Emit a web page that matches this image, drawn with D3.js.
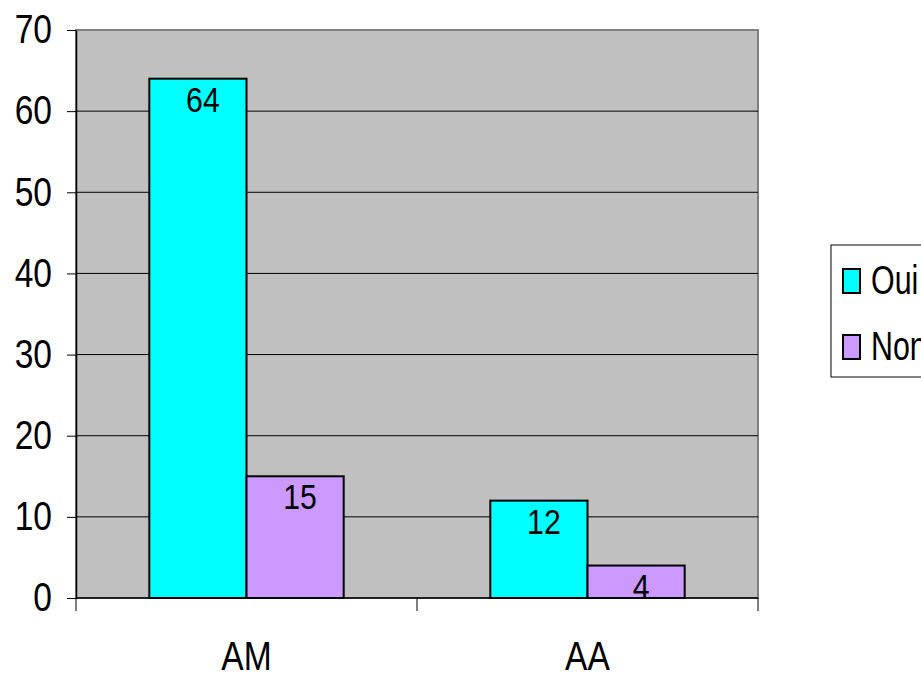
<!DOCTYPE html>
<html>
<head>
<meta charset="utf-8">
<script src="https://cdn.jsdelivr.net/npm/d3@7"></script>
<style>
  body { margin: 0; background: #fff; }
  svg { display: block; }
  text { font-family: "Liberation Sans", Arial, sans-serif; fill: #000; }
</style>
</head>
<body>
<div id="chart"></div>
<script>
// chart data
const categories = ['AM', 'AA'];
const seriesNames = ['Oui', 'Non'];
const oui = [64, 12];
const non = [15, 4];
const yTicks = [0, 10, 20, 30, 40, 50, 60, 70];
const colors = ['#00ffff', '#cc99ff'];

const width = 921, height = 673;
const plot = { left: 76, top: 30, right: 758, bottom: 598 };
const sx = 0.84; // text in the picture is narrow

const svg = d3.select('#chart').append('svg')
  .attr('width', width)
  .attr('height', height);

const x0 = d3.scaleBand().domain(categories).range([plot.left, plot.right]).padding(0);
const groupW = x0.bandwidth() * 0.57;
const x1 = d3.scaleBand().domain(seriesNames).range([0, groupW]);
const y = d3.scaleLinear().domain([0, 70]).range([plot.bottom, plot.top]);

// plot background
svg.append('rect')
  .attr('x', plot.left).attr('y', plot.top)
  .attr('width', plot.right - plot.left).attr('height', plot.bottom - plot.top)
  .attr('fill', '#c0c0c0')
  .attr('stroke', '#808080')
  .attr('stroke-width', 2);

// gridlines
svg.append('g').selectAll('line')
  .data(yTicks.filter(d => d > 0 && d < 70))
  .enter().append('line')
  .attr('x1', plot.left).attr('x2', plot.right)
  .attr('y1', d => y(d)).attr('y2', d => y(d))
  .attr('stroke', '#000')
  .attr('stroke-width', 1);

// bars
const data = categories.map((c, i) => ({ cat: c, values: [
  { name: seriesNames[0], value: oui[i] },
  { name: seriesNames[1], value: non[i] }
] }));

const groups = svg.append('g').selectAll('g')
  .data(data)
  .enter().append('g')
  .attr('transform', d => 'translate(' + (x0(d.cat) + (x0.bandwidth() - groupW) / 2) + ',0)');

groups.selectAll('rect')
  .data(d => d.values)
  .enter().append('rect')
  .attr('x', d => x1(d.name))
  .attr('y', d => y(d.value))
  .attr('width', x1.bandwidth())
  .attr('height', d => y(0) - y(d.value))
  .attr('fill', (d, i) => colors[i])
  .attr('stroke', '#000')
  .attr('stroke-width', 2);

// value labels
groups.selectAll('text.val')
  .data(d => d.values)
  .enter().append('text')
  .attr('class', 'val')
  .attr('text-anchor', 'middle')
  .attr('font-size', 36)
  .attr('transform', d => 'translate(' + (x1(d.name) + x1.bandwidth() / 2 + 5) + ',' + (y(d.value) + 33) + ') scale(' + sx + ',1)')
  .text(d => d.value);

// y axis
const yAxis = svg.append('g')
  .attr('transform', 'translate(' + plot.left + ',0)')
  .call(d3.axisLeft(y).tickValues(yTicks).tickSize(9).tickSizeOuter(0));
yAxis.select('.domain').attr('stroke', '#000').attr('stroke-width', 1.5);
yAxis.selectAll('.tick line').attr('stroke', '#000');
yAxis.selectAll('.tick text')
  .attr('x', null)
  .attr('font-size', 40)
  .attr('font-family', null)
  .attr('fill', '#000')
  .attr('transform', 'translate(-24,0) scale(' + sx + ',1)');

// x axis
const xAxis = svg.append('g')
  .attr('transform', 'translate(0,' + plot.bottom + ')');
xAxis.append('line')
  .attr('x1', plot.left).attr('x2', plot.right)
  .attr('stroke', '#000').attr('stroke-width', 1.5);
xAxis.selectAll('line.tk')
  .data(d3.range(categories.length + 1))
  .enter().append('line')
  .attr('class', 'tk')
  .attr('x1', i => plot.left + i * x0.step())
  .attr('x2', i => plot.left + i * x0.step())
  .attr('y1', 0).attr('y2', 13)
  .attr('stroke', '#000');
xAxis.selectAll('text')
  .data(categories)
  .enter().append('text')
  .attr('text-anchor', 'middle')
  .attr('font-size', 40)
  .attr('transform', d => 'translate(' + (x0(d) + x0.bandwidth() / 2) + ',72) scale(' + sx + ',1)')
  .text(d => d);

// legend
const legend = svg.append('g');
legend.append('rect')
  .attr('x', 831).attr('y', 245)
  .attr('width', 140).attr('height', 132)
  .attr('fill', '#fff')
  .attr('stroke', '#000')
  .attr('stroke-width', 1);
const items = legend.selectAll('g.item')
  .data(seriesNames)
  .enter().append('g')
  .attr('class', 'item')
  .attr('transform', (d, i) => 'translate(843,' + (269 + i * 66) + ')');
items.append('rect')
  .attr('width', 17).attr('height', 24)
  .attr('fill', (d, i) => colors[i])
  .attr('stroke', '#000')
  .attr('stroke-width', 2);
items.append('text')
  .attr('font-size', 40)
  .attr('transform', 'translate(28,25) scale(0.76,1)')
  .text(d => d);
</script>
</body>
</html>
